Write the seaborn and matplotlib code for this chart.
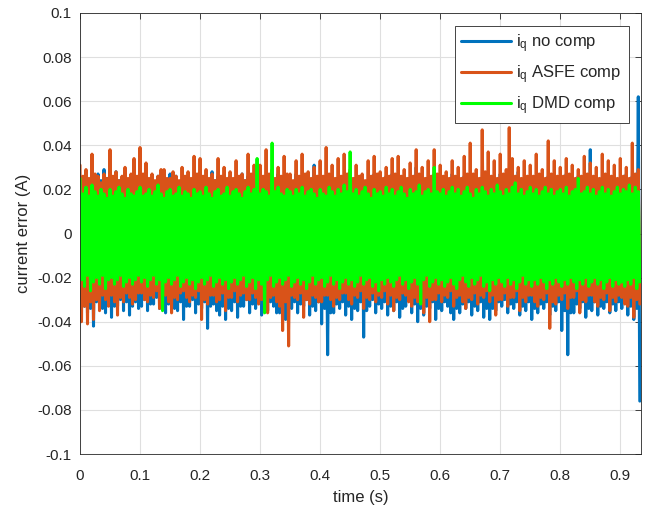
"""Current error traces for the three compensation schemes."""

import matplotlib

matplotlib.use("Agg")
import matplotlib.pyplot as plt
import numpy as np
import pandas as pd
import seaborn as sns

# Peak / trough envelopes, one pair every 5 ms
# (each row below covers 50 ms).
peak_times = np.round(np.arange(187) * 0.005, 4)

no_comp_high = [
    0.024, 0.022, 0.026, 0.023, 0.025, 0.021, 0.027, 0.024, 0.029, 0.025,
    0.026, 0.023, 0.028, 0.024, 0.025, 0.022, 0.024, 0.021, 0.026, 0.023,
    0.025, 0.022, 0.027, 0.024, 0.024, 0.021, 0.026, 0.023, 0.025, 0.022,
    0.027, 0.024, 0.026, 0.022, 0.024, 0.021, 0.026, 0.023, 0.025, 0.022,
    0.027, 0.023, 0.025, 0.022, 0.028, 0.024, 0.026, 0.023, 0.024, 0.021,
    0.026, 0.023, 0.025, 0.022, 0.027, 0.024, 0.026, 0.022, 0.025, 0.023,
    0.027, 0.024, 0.026, 0.022, 0.025, 0.023, 0.027, 0.024, 0.024, 0.021,
    0.026, 0.023, 0.027, 0.024, 0.025, 0.022, 0.026, 0.023, 0.031, 0.024,
    0.026, 0.023, 0.025, 0.022, 0.027, 0.024, 0.024, 0.021, 0.026, 0.023,
    0.028, 0.024, 0.025, 0.022, 0.026, 0.023, 0.024, 0.021, 0.027, 0.024,
    0.025, 0.022, 0.026, 0.023, 0.027, 0.024, 0.024, 0.021, 0.026, 0.023,
    0.025, 0.022, 0.030, 0.024, 0.026, 0.023, 0.025, 0.022, 0.027, 0.024,
    0.026, 0.023, 0.024, 0.021, 0.027, 0.024, 0.025, 0.022, 0.026, 0.023,
    0.024, 0.021, 0.027, 0.024, 0.025, 0.022, 0.026, 0.023, 0.025, 0.022,
    0.027, 0.024, 0.025, 0.022, 0.026, 0.023, 0.028, 0.024, 0.024, 0.021,
    0.026, 0.023, 0.025, 0.022, 0.027, 0.024, 0.026, 0.023, 0.025, 0.022,
    0.026, 0.023, 0.027, 0.024, 0.025, 0.022, 0.026, 0.023, 0.024, 0.021,
    0.038, 0.024, 0.026, 0.023, 0.025, 0.022, 0.027, 0.024, 0.026, 0.023,
    0.025, 0.022, 0.027, 0.024, 0.026, 0.023, 0.062,
]
no_comp_low = [
    -0.030, -0.033, -0.036, -0.034, -0.042, -0.031, -0.031, -0.034, -0.036, -0.032,
    -0.038, -0.033, -0.033, -0.030, -0.035, -0.031, -0.037, -0.033, -0.031, -0.034,
    -0.033, -0.030, -0.035, -0.032, -0.032, -0.029, -0.034, -0.031, -0.036, -0.032,
    -0.031, -0.034, -0.035, -0.031, -0.039, -0.033, -0.033, -0.030, -0.036, -0.032,
    -0.034, -0.031, -0.043, -0.033, -0.032, -0.035, -0.037, -0.033, -0.039, -0.034,
    -0.035, -0.031, -0.038, -0.033, -0.033, -0.030, -0.036, -0.032, -0.034, -0.031,
    -0.037, -0.033, -0.035, -0.031, -0.033, -0.036, -0.036, -0.032, -0.039, -0.034,
    -0.034, -0.031, -0.036, -0.032, -0.033, -0.030, -0.037, -0.033, -0.035, -0.031,
    -0.041, -0.034, -0.055, -0.036, -0.036, -0.032, -0.034, -0.031, -0.037, -0.033,
    -0.039, -0.034, -0.035, -0.031, -0.047, -0.035, -0.033, -0.030, -0.036, -0.032,
    -0.034, -0.031, -0.037, -0.033, -0.035, -0.031, -0.038, -0.034, -0.033, -0.030,
    -0.036, -0.032, -0.040, -0.034, -0.037, -0.033, -0.034, -0.031, -0.039, -0.034,
    -0.035, -0.031, -0.033, -0.036, -0.039, -0.034, -0.036, -0.032, -0.034, -0.031,
    -0.037, -0.033, -0.035, -0.031, -0.038, -0.034, -0.039, -0.034, -0.035, -0.031,
    -0.033, -0.030, -0.036, -0.032, -0.034, -0.031, -0.037, -0.033, -0.035, -0.031,
    -0.039, -0.034, -0.036, -0.032, -0.034, -0.031, -0.037, -0.033, -0.035, -0.031,
    -0.044, -0.035, -0.055, -0.036, -0.036, -0.032, -0.034, -0.031, -0.038, -0.034,
    -0.035, -0.031, -0.037, -0.033, -0.034, -0.031, -0.036, -0.032, -0.035, -0.031,
    -0.034, -0.031, -0.037, -0.033, -0.039, -0.034, -0.076,
]

asfe_high = [
    0.031, 0.026, 0.029, 0.025, 0.036, 0.027, 0.026, 0.023, 0.027, 0.025,
    0.038, 0.026, 0.028, 0.024, 0.026, 0.030, 0.025, 0.027, 0.034, 0.026,
    0.039, 0.027, 0.032, 0.025, 0.027, 0.024, 0.026, 0.029, 0.029, 0.025,
    0.025, 0.028, 0.026, 0.024, 0.030, 0.026, 0.028, 0.025, 0.035, 0.027,
    0.034, 0.026, 0.029, 0.025, 0.027, 0.024, 0.034, 0.026, 0.030, 0.025,
    0.028, 0.025, 0.033, 0.026, 0.027, 0.024, 0.036, 0.027, 0.031, 0.025,
    0.031, 0.026, 0.038, 0.027, 0.029, 0.025, 0.030, 0.026, 0.035, 0.027,
    0.027, 0.024, 0.033, 0.026, 0.036, 0.027, 0.028, 0.025, 0.030, 0.026,
    0.033, 0.026, 0.039, 0.027, 0.031, 0.025, 0.034, 0.026, 0.036, 0.027,
    0.029, 0.025, 0.031, 0.026, 0.027, 0.024, 0.033, 0.026, 0.035, 0.027,
    0.028, 0.025, 0.030, 0.026, 0.034, 0.027, 0.035, 0.026, 0.029, 0.025,
    0.032, 0.026, 0.038, 0.027, 0.030, 0.025, 0.033, 0.026, 0.038, 0.027,
    0.031, 0.026, 0.028, 0.025, 0.033, 0.026, 0.030, 0.025, 0.035, 0.027,
    0.041, 0.027, 0.029, 0.025, 0.047, 0.028, 0.037, 0.026, 0.033, 0.025,
    0.036, 0.027, 0.029, 0.048, 0.034, 0.026, 0.030, 0.025, 0.033, 0.026,
    0.031, 0.026, 0.036, 0.027, 0.029, 0.025, 0.042, 0.027, 0.033, 0.026,
    0.030, 0.026, 0.034, 0.027, 0.031, 0.025, 0.029, 0.026, 0.035, 0.027,
    0.032, 0.026, 0.030, 0.025, 0.036, 0.027, 0.033, 0.026, 0.031, 0.025,
    0.034, 0.026, 0.030, 0.025, 0.041, 0.027, 0.029,
]
asfe_low = [
    -0.040, -0.033, -0.041, -0.031, -0.039, -0.030, -0.035, -0.028, -0.030, -0.033,
    -0.028, -0.031, -0.037, -0.029, -0.031, -0.027, -0.029, -0.032, -0.030, -0.027,
    -0.027, -0.030, -0.031, -0.028, -0.029, -0.026, -0.034, -0.029, -0.028, -0.031,
    -0.036, -0.029, -0.030, -0.027, -0.026, -0.029, -0.031, -0.028, -0.029, -0.026,
    -0.039, -0.030, -0.032, -0.028, -0.028, -0.031, -0.030, -0.027, -0.035, -0.029,
    -0.029, -0.026, -0.031, -0.028, -0.027, -0.030, -0.030, -0.027, -0.029, -0.032,
    -0.030, -0.027, -0.036, -0.029, -0.028, -0.031, -0.033, -0.044, -0.031, -0.051,
    -0.028, -0.029, -0.030, -0.027, -0.038, -0.030, -0.032, -0.028, -0.029, -0.031,
    -0.031, -0.028, -0.028, -0.030, -0.033, -0.029, -0.030, -0.027, -0.027, -0.030,
    -0.032, -0.028, -0.029, -0.026, -0.034, -0.029, -0.030, -0.027, -0.031, -0.028,
    -0.029, -0.026, -0.032, -0.028, -0.035, -0.029, -0.030, -0.027, -0.028, -0.031,
    -0.033, -0.029, -0.031, -0.027, -0.036, -0.029, -0.040, -0.030, -0.030, -0.027,
    -0.031, -0.028, -0.029, -0.026, -0.033, -0.029, -0.028, -0.031, -0.034, -0.029,
    -0.030, -0.027, -0.032, -0.028, -0.029, -0.026, -0.031, -0.028, -0.037, -0.030,
    -0.030, -0.027, -0.033, -0.029, -0.029, -0.026, -0.035, -0.029, -0.031, -0.028,
    -0.028, -0.031, -0.033, -0.029, -0.030, -0.027, -0.043, -0.031, -0.032, -0.028,
    -0.030, -0.027, -0.034, -0.029, -0.029, -0.026, -0.036, -0.030, -0.031, -0.028,
    -0.028, -0.031, -0.033, -0.029, -0.030, -0.027, -0.035, -0.029, -0.031, -0.028,
    -0.029, -0.032, -0.033, -0.029, -0.038, -0.030, -0.032,
]

dmd_high = [
    0.025, 0.018, 0.021, 0.017, 0.022, 0.019, 0.017, 0.020, 0.018, 0.016,
    0.020, 0.017, 0.019, 0.021, 0.018, 0.016, 0.020, 0.018, 0.017, 0.019,
    0.021, 0.017, 0.018, 0.020, 0.017, 0.019, 0.022, 0.018, 0.016, 0.019,
    0.020, 0.017, 0.018, 0.021, 0.017, 0.019, 0.018, 0.016, 0.020, 0.018,
    0.019, 0.017, 0.021, 0.018, 0.016, 0.019, 0.020, 0.017, 0.018, 0.021,
    0.017, 0.019, 0.020, 0.018, 0.016, 0.019, 0.021, 0.018, 0.020, 0.034,
    0.018, 0.020, 0.019, 0.017, 0.041, 0.019, 0.021, 0.018, 0.017, 0.020,
    0.019, 0.017, 0.020, 0.018, 0.021, 0.017, 0.019, 0.020, 0.018, 0.016,
    0.020, 0.018, 0.017, 0.021, 0.019, 0.017, 0.020, 0.018, 0.022, 0.019,
    0.037, 0.018, 0.020, 0.017, 0.019, 0.021, 0.018, 0.016, 0.020, 0.018,
    0.019, 0.017, 0.021, 0.018, 0.020, 0.017, 0.019, 0.021, 0.018, 0.016,
    0.020, 0.018, 0.019, 0.022, 0.017, 0.019, 0.020, 0.018, 0.030, 0.019,
    0.018, 0.020, 0.017, 0.019, 0.021, 0.018, 0.020, 0.017, 0.019, 0.021,
    0.018, 0.016, 0.020, 0.018, 0.021, 0.019, 0.017, 0.020, 0.018, 0.022,
    0.019, 0.017, 0.020, 0.018, 0.021, 0.023, 0.018, 0.020, 0.017, 0.019,
    0.021, 0.018, 0.020, 0.017, 0.019, 0.021, 0.018, 0.020, 0.017, 0.019,
    0.020, 0.018, 0.021, 0.017, 0.019, 0.020, 0.025, 0.018, 0.019, 0.021,
    0.018, 0.020, 0.017, 0.019, 0.021, 0.018, 0.020, 0.017, 0.019, 0.021,
    0.018, 0.020, 0.019, 0.022, 0.018, 0.021, 0.019,
]
dmd_low = [
    -0.021, -0.024, -0.019, -0.026, -0.022, -0.020, -0.023, -0.019, -0.025, -0.021,
    -0.020, -0.023, -0.021, -0.019, -0.024, -0.022, -0.020, -0.023, -0.021, -0.019,
    -0.022, -0.020, -0.024, -0.021, -0.019, -0.023, -0.021, -0.035, -0.022, -0.020,
    -0.023, -0.021, -0.019, -0.024, -0.022, -0.020, -0.023, -0.021, -0.025, -0.022,
    -0.020, -0.023, -0.021, -0.019, -0.024, -0.022, -0.020, -0.023, -0.021, -0.025,
    -0.022, -0.020, -0.023, -0.021, -0.019, -0.024, -0.022, -0.020, -0.025, -0.021,
    -0.023, -0.036, -0.021, -0.019, -0.024, -0.022, -0.020, -0.023, -0.021, -0.019,
    -0.024, -0.022, -0.020, -0.023, -0.021, -0.025, -0.022, -0.019, -0.023, -0.021,
    -0.020, -0.024, -0.022, -0.019, -0.023, -0.021, -0.025, -0.022, -0.020, -0.023,
    -0.021, -0.024, -0.022, -0.019, -0.023, -0.021, -0.020, -0.024, -0.022, -0.026,
    -0.021, -0.023, -0.020, -0.022, -0.024, -0.021, -0.019, -0.023, -0.021, -0.025,
    -0.022, -0.020, -0.023, -0.032, -0.021, -0.019, -0.024, -0.022, -0.020, -0.023,
    -0.021, -0.024, -0.022, -0.020, -0.023, -0.025, -0.021, -0.019, -0.022, -0.024,
    -0.020, -0.023, -0.021, -0.019, -0.024, -0.022, -0.026, -0.021, -0.023, -0.020,
    -0.022, -0.024, -0.020, -0.023, -0.021, -0.025, -0.022, -0.019, -0.023, -0.021,
    -0.024, -0.021, -0.023, -0.020, -0.022, -0.025, -0.021, -0.023, -0.020, -0.022,
    -0.024, -0.021, -0.023, -0.020, -0.022, -0.025, -0.021, -0.023, -0.020, -0.024,
    -0.022, -0.020, -0.023, -0.021, -0.025, -0.022, -0.020, -0.024, -0.021, -0.023,
    -0.022, -0.024, -0.021, -0.023, -0.020, -0.025, -0.022,
]

series_labels = ["$i_q$ no comp", "$i_q$ ASFE comp", "$i_q$ DMD comp"]
series_colors = ["#0072BD", "#D95319", "#00FF00"]

x_ticks = [0, 0.1, 0.2, 0.3, 0.4, 0.5, 0.6, 0.7, 0.8, 0.9]
x_tick_labels = ["0", "0.1", "0.2", "0.3", "0.4", "0.5", "0.6", "0.7", "0.8", "0.9"]
y_ticks = [-0.1, -0.08, -0.06, -0.04, -0.02, 0, 0.02, 0.04, 0.06, 0.08, 0.1]
y_tick_labels = ["-0.1", "-0.08", "-0.06", "-0.04", "-0.02", "0",
                 "0.02", "0.04", "0.06", "0.08", "0.1"]


def zigzag(high, low):
    # alternate peak and trough samples so the trace fills its band
    t = np.column_stack([peak_times, peak_times + 0.0025]).ravel()
    v = np.column_stack([high, low]).ravel()
    return pd.DataFrame({"time": t, "error": v})


def main() -> None:
    sns.set_style("white")
    plt.rcParams["font.family"] = ["Liberation Sans", "DejaVu Sans"]
    plt.rcParams["mathtext.fontset"] = "custom"
    plt.rcParams["mathtext.rm"] = "Liberation Sans"
    plt.rcParams["mathtext.it"] = "Liberation Sans"
    plt.rcParams["mathtext.default"] = "rm"
    plt.rcParams["axes.unicode_minus"] = False

    fig, ax = plt.subplots(figsize=(6.52, 5.08), dpi=100)
    fig.subplots_adjust(left=80 / 652, right=641 / 652, bottom=1 - 454 / 508, top=1 - 13 / 508)

    envelopes = [(no_comp_high, no_comp_low), (asfe_high, asfe_low), (dmd_high, dmd_low)]
    for (high, low), label, color in zip(envelopes, series_labels, series_colors):
        sns.lineplot(
            data=zigzag(high, low), x="time", y="error", color=color,
            linewidth=2.2, label=label, sort=False, estimator=None, ax=ax,
        )

    ax.set_xlim(0, 0.9345)
    ax.set_ylim(-0.1, 0.1)
    ax.set_xticks(x_ticks, x_tick_labels)
    ax.set_yticks(y_ticks, y_tick_labels)
    ax.grid(True, color="#dfdfdf", linewidth=0.8)
    ax.set_axisbelow(True)
    ax.tick_params(direction="in", top=True, right=True, length=4, width=0.6,
                   colors="#262626", labelsize=11)
    ax.tick_params(axis="x", pad=10.5)
    ax.tick_params(axis="y", pad=6)
    for spine in ax.spines.values():
        spine.set_color("#262626")
        spine.set_linewidth(0.6)
    ax.set_xlabel("time (s)", fontsize=12, color="#262626", labelpad=5)
    ax.set_ylabel("current error (A)", fontsize=12, color="#262626", labelpad=4)

    leg = ax.legend(loc="upper right", fancybox=False, framealpha=1, fontsize=12,
                    handlelength=3.0, borderaxespad=0.75, labelspacing=0.5,
                    handletextpad=0.3, borderpad=0.4)
    leg.get_frame().set_edgecolor("#262626")
    leg.get_frame().set_linewidth(0.6)

    fig.savefig("out.png", dpi=100)
    plt.close(fig)


if __name__ == "__main__":
    main()
